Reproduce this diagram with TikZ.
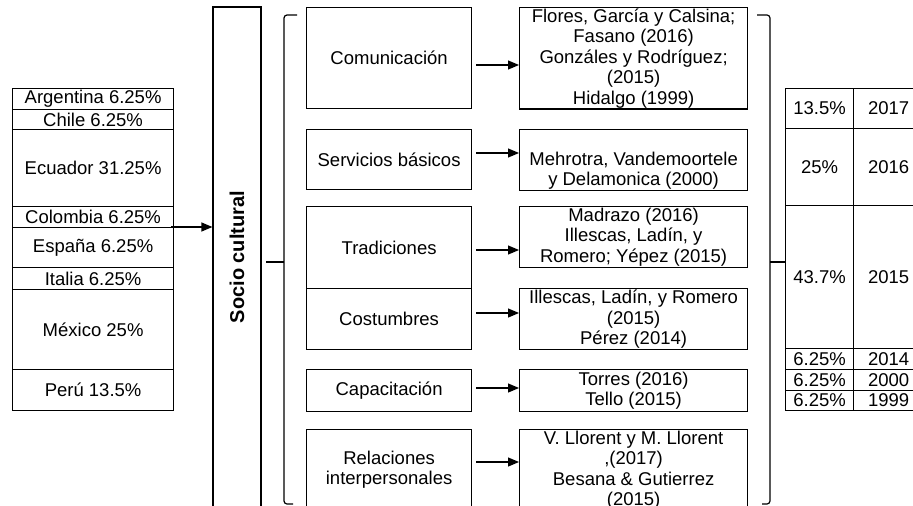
\documentclass[tikz,border=0pt]{standalone}
\usepackage{fontspec}
\setmainfont{Liberation Sans}
\usetikzlibrary{arrows.meta,positioning}

\begin{document}
\begin{tikzpicture}[x=1pt, y=-1pt, line width=1.2pt,
    every node/.style={font=\fontsize{18.5}{20.5}\selectfont},
    cell/.style={rectangle, draw, anchor=north west, inner sep=1pt, align=center},
    box/.style={rectangle, draw, anchor=north west, inner sep=1pt, align=center},
    arrow/.style={-{Triangle[length=11pt,width=9pt]}, shorten <=4pt},
    bracket/.style={rounded corners=3pt}
]
\useasboundingbox (0,0) rectangle (913,506);
\clip (0,0) rectangle (913,506);

% Countries
\node[cell, minimum width=161pt, minimum height=21pt] (arg) at (12,88) {Argentina 6.25\%};
\node[cell, minimum width=161pt, minimum height=20pt] (chi) at (12,109) {Chile 6.25\%};
\node[cell, minimum width=161pt, minimum height=77pt] (ecu) at (12,129) {Ecuador 31.25\%};
\node[cell, minimum width=161pt, minimum height=21pt] (col) at (12,206) {Colombia 6.25\%};
\node[cell, minimum width=161pt, minimum height=40pt] (esp) at (12,227) {España 6.25\%};
\node[cell, minimum width=161pt, minimum height=22pt] (ita) at (12,267) {Italia 6.25\%};
\node[cell, minimum width=161pt, minimum height=80pt] (mex) at (12,289) {México 25\%};
\node[cell, minimum width=161pt, minimum height=41pt] (per) at (12,369) {Perú 13.5\%};

% Main category
\node[draw, rotate=90, minimum width=500pt, minimum height=48pt,
      font=\fontsize{20}{22}\bfseries] (socio) at (237,257) {Socio cultural};
\draw[-{Triangle[length=11pt,width=9pt]}] ([xshift=-3pt]esp.north east) -- (esp.north east -| socio.north);

% Left bracket
\draw[bracket] (297,15) -- (284,15) -- (284,504) -- (293,504);
\draw (284,262) -- (266,262);

% Subcategories
\node[box, minimum width=165pt, minimum height=101pt] (com) at (306,7) {Comunicación};
\node[box, minimum width=165pt, minimum height=60pt] (ser) at (306,129) {Servicios básicos};
\node[box, minimum width=165pt, minimum height=82pt] (tra) at (306,206) {Tradiciones};
\node[box, minimum width=165pt, minimum height=61pt] (cos) at (306,288) {Costumbres};
\node[box, minimum width=165pt, minimum height=42pt] (cap) at (306,369) {Capacitación};
\node[box, minimum width=165pt, minimum height=80pt] (rel) at (306,429) {Relaciones\\interpersonales};

% Authors
\node[box, minimum width=228pt, minimum height=101pt] (aut1) at (519,7)
    {Flores, García y Calsina;\\Fasano (2016)\\Gonzáles y Rodríguez;\\(2015)\\Hidalgo (1999)};
\node[box, minimum width=228pt, minimum height=60pt] (aut2) at (519,129)
    {\strut\\Mehrotra, Vandemoortele\\y Delamonica (2000)};
\node[box, minimum width=228pt, minimum height=61pt] (aut3) at (519,206)
    {Madrazo (2016)\\Illescas, Ladín, y\\Romero; Yépez (2015)};
\node[box, minimum width=228pt, minimum height=61pt] (aut4) at (519,288)
    {Illescas, Ladín, y Romero\\(2015)\\Pérez (2014)};
\node[box, minimum width=228pt, minimum height=42pt] (aut5) at (519,369)
    {Torres (2016)\\Tello (2015)};
\node[box, minimum width=228pt, minimum height=80pt] (aut6) at (519,429)
    {V. Llorent y M. Llorent\\,(2017)\\Besana \& Gutierrez\\(2015)};

% Arrows
\draw[arrow] (com.east |- 0,65) -- (aut1.west |- 0,65);
\draw[arrow] (ser.east |- 0,153) -- (aut2.west |- 0,153);
\draw[arrow] (tra.east |- 0,250) -- (aut3.west |- 0,250);
\draw[arrow] (cos.east |- 0,313) -- (aut4.west |- 0,313);
\draw[arrow] (cap.east |- 0,388) -- (aut5.west |- 0,388);
\draw[arrow] (rel.east |- 0,462) -- (aut6.west |- 0,462);

% Right bracket
\draw[bracket] (757,15) -- (770,15) -- (770,504) -- (762,504);
\draw (770,262) -- (786,262);

% Years
\node[cell, minimum width=68pt, minimum height=40pt] (p17) at (785,88) {13.5\%};
\node[cell, minimum width=70pt, minimum height=40pt] (y17) at (853,88) {2017};
\node[cell, minimum width=68pt, minimum height=77pt] (p16) at (785,128) {25\%};
\node[cell, minimum width=70pt, minimum height=77pt] (y16) at (853,128) {2016};
\node[cell, minimum width=68pt, minimum height=143pt] (p15) at (785,205) {43.7\%};
\node[cell, minimum width=70pt, minimum height=143pt] (y15) at (853,205) {2015};
\node[cell, minimum width=68pt, minimum height=21pt] (p14) at (785,348) {6.25\%};
\node[cell, minimum width=70pt, minimum height=21pt] (y14) at (853,348) {2014};
\node[cell, minimum width=68pt, minimum height=21pt] (p00) at (785,369) {6.25\%};
\node[cell, minimum width=70pt, minimum height=21pt] (y00) at (853,369) {2000};
\node[cell, minimum width=68pt, minimum height=20pt] (p99) at (785,390) {6.25\%};
\node[cell, minimum width=70pt, minimum height=20pt] (y99) at (853,390) {1999};
\end{tikzpicture}
\end{document}
